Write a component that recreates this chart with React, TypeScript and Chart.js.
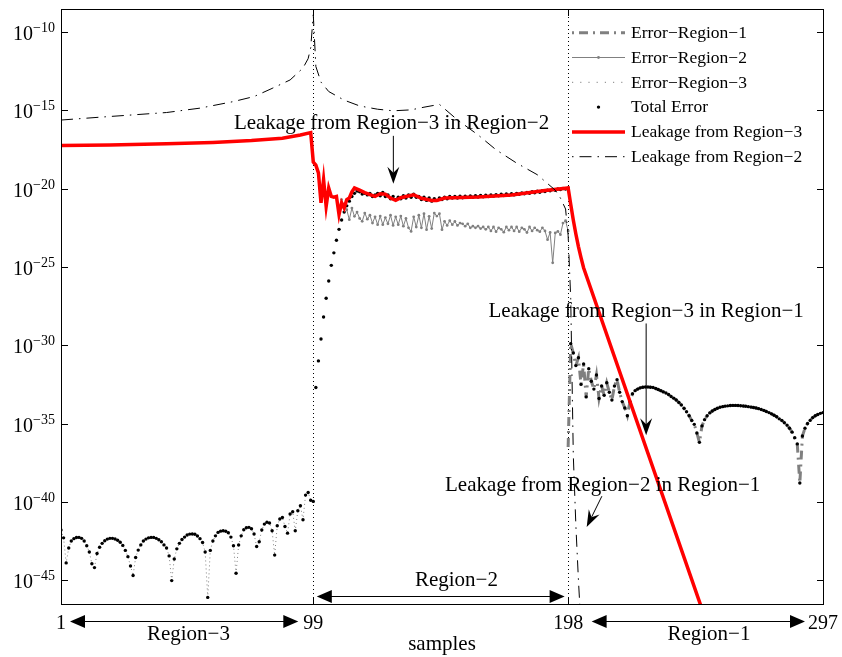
import { useEffect, useRef } from "react";
import { Chart, registerables } from "chart.js";

Chart.register(...registerables);

const SERIF = '"Liberation Serif", "Times New Roman", Times, serif';
const MINUS = "\u2212";

// ---- axes -------------------------------------------------------------
const sampleRange = [1, 297];
const xTickValues = [1, 99, 198, 297];
const yTickExponents = [-10, -15, -20, -25, -30, -35, -40, -45];
const yExponentRange = [-46.47, -8.53];
const regionBoundaries = [99, 198];

// ---- data (log10 of the error) ---------------------------------------
// Total error, one value per sample: samples 1..99
const totalErrorRegion3: number[] = [
  -41.8, -42.3, -43.9, -42.95, -42.5, -42.35, -42.28, -42.27, -42.33, -42.5,
  -42.8, -43.2, -43.95, -44.2, -43.3, -42.9, -42.65, -42.48, -42.38, -42.33,
  -42.33, -42.37, -42.45, -42.58, -42.78, -43.1, -43.5, -44.1, -44.7, -43.55,
  -43.08, -42.75, -42.5, -42.38, -42.3, -42.27, -42.27, -42.33, -42.42, -42.55,
  -42.75, -42.95, -43.45, -45.03, -43.65, -43.0, -42.65, -42.4, -42.25, -42.12,
  -42.06, -42.05, -42.07, -42.18, -42.35, -42.6, -43.2, -46.1, -43.1, -42.5,
  -42.17, -41.95, -41.87, -41.85, -41.88, -41.97, -42.25, -42.8, -44.56, -42.76,
  -42.17, -41.78, -41.65, -41.63, -41.72, -42.05, -42.85, -42.55, -41.8, -41.42,
  -41.3, -41.35, -41.85, -43.4, -41.53, -41.1, -41.0, -41.57, -42.0, -40.78,
  -40.63, -41.85, -40.57, -40.25, -41.14, -39.57, -39.4, -39.9, -39.97,
];

// samples 100..198
const totalErrorRegion2: number[] = [
  -32.7, -31.0, -29.6, -28.2, -27.0, -25.9, -24.9, -24.1, -23.3, -22.6,
  -22.0, -21.5, -21.1, -20.8, -20.5, -20.3, -20.15, -20.2, -20.35, -20.3,
  -20.4, -20.3, -20.5, -20.4, -20.3, -20.45, -20.25, -20.5, -20.4, -20.65,
  -20.5, -20.7, -20.55, -20.65, -20.45, -20.6, -20.4, -20.55, -20.35, -20.55,
  -20.5, -20.7, -20.55, -20.75, -20.6, -20.8, -20.65, -20.75, -20.6, -20.7,
  -20.55, -20.65, -20.5, -20.6, -20.5, -20.6, -20.48, -20.58, -20.48, -20.56,
  -20.46, -20.55, -20.45, -20.53, -20.43, -20.52, -20.42, -20.5, -20.4, -20.48,
  -20.38, -20.46, -20.36, -20.44, -20.34, -20.42, -20.32, -20.4, -20.3, -20.36,
  -20.27, -20.33, -20.24, -20.3, -20.2, -20.27, -20.17, -20.23, -20.13, -20.18,
  -20.1, -20.14, -20.06, -20.1, -20.02, -20.06, -19.99, -20.02, -19.97,
];

// samples 199..297
const totalErrorRegion1: number[] = [
  -29.9, -30.5, -31.3, -30.8, -32.5, -31.2, -33.3, -31.5, -32.3, -32.8,
  -31.9, -33.4, -32.6, -33.2, -32.4, -33.0, -33.5, -32.6, -32.2, -33.0,
  -33.6, -34.0, -34.5, -33.6, -33.1, -32.9, -32.8, -32.72, -32.68, -32.67,
  -32.67, -32.68, -32.7, -32.76, -32.83, -32.9, -32.98, -33.05, -33.15, -33.27,
  -33.38, -33.5, -33.65, -33.82, -34.02, -34.25, -34.5, -34.8, -35.05, -35.6,
  -36.2, -35.15, -34.75, -34.5, -34.32, -34.2, -34.1, -34.02, -33.96, -33.92,
  -33.89, -33.87, -33.85, -33.84, -33.84, -33.85, -33.86, -33.88, -33.9, -33.92,
  -33.95, -33.98, -34.01, -34.05, -34.1, -34.16, -34.23, -34.3, -34.38, -34.47,
  -34.57, -34.7, -34.8, -34.95, -35.1, -35.3, -35.55, -35.9, -36.3, -38.8,
  -35.8, -35.3, -35.0, -34.8, -34.62, -34.5, -34.42, -34.35, -34.3,
];

// Error of region 1 at the boundary sample 198 (the rest follows the total error)
const errorRegion1AtBoundary = -36.5;

// Error of region 2, samples 110..198
const errorRegion2: number[] = [
  -20.7, -21.1, -21.35, -21.98, -21.24, -21.77, -21.5, -21.9, -22.09, -21.56,
  -21.95, -21.7, -22.2, -21.8, -22.3, -21.75, -22.3, -21.85, -22.25, -21.7,
  -22.35, -21.8, -22.3, -21.75, -22.4, -21.9, -22.5, -22.73, -21.8, -22.45,
  -21.7, -22.5, -21.6, -22.62, -21.77, -22.55, -21.56, -21.75, -21.6, -22.62,
  -22.09, -22.35, -22.05, -22.3, -22.1, -22.35, -22.2, -22.25, -22.4, -22.25,
  -22.5, -22.4, -22.5, -22.4, -22.55, -22.45, -22.6, -22.45, -22.7, -22.45,
  -22.75, -22.5, -22.6, -22.78, -22.45, -22.65, -22.45, -22.7, -22.45, -22.75,
  -22.5, -22.6, -22.8, -22.45, -22.7, -22.5, -22.65, -22.75, -22.5, -22.7,
  -23.26, -22.8, -24.74, -22.83, -22.73, -22.94, -22.2, -22.05, -22.7,
];

// Leakage from region 3
const leak3Samples: number[] = [
  1, 20, 42, 60, 75, 87, 94, 98,
  99, 100, 101, 102, 103, 104, 105, 106, 107, 108, 109, 110, 111, 112, 113, 114, 115,
  117, 119, 121, 123, 125, 127, 129, 131, 133, 135,
  138, 141, 145, 147, 150, 163, 176, 189, 198,
  199, 200, 201, 202, 203, 204, 250, 254,
];
const leak3Exps: number[] = [
  -17.25, -17.22, -17.14, -17.05, -16.93, -16.78, -16.58, -16.42,
  -18.3, -18.5, -19.0, -20.9, -19.43, -21.13, -19.96, -20.5, -20.55, -20.5, -21.66, -20.9, -21.24, -20.7, -20.6, -20.2, -19.96,
  -20.1, -20.25, -20.38, -20.5, -20.33, -20.35, -20.6, -20.75, -20.58, -20.5,
  -20.39, -20.62, -20.75, -20.75, -20.6, -20.53, -20.4, -20.12, -19.96,
  -21.0, -22.0, -22.9, -23.7, -24.4, -25.05, -46.85, -48.75,
];

// Leakage from region 2
const leak2Samples: number[] = [
  1, 16, 29, 42, 55, 68, 76, 83, 90, 95,
  97, 98, 99, 100, 102, 105, 111, 117, 124, 130,
  137, 142, 148, 155, 163, 170, 178, 186, 193, 195,
  197, 198, 199, 200, 201, 202, 203,
];
const leak2Exps: number[] = [
  -15.62, -15.44, -15.29, -15.14, -14.86, -14.44, -14.12, -13.6, -13.06, -12.3,
  -11.7, -11.0, -8.9, -12.2, -13.2, -13.8, -14.35, -14.72, -14.93, -15.03,
  -14.97, -14.8, -14.62, -15.61, -16.57, -17.52, -18.37, -19.11, -20.1, -20.6,
  -21.3, -23.0, -27.0, -37.0, -41.5, -45.0, -48.0,
];

const seriesLabels = [
  "Error" + MINUS + "Region" + MINUS + "1",
  "Error" + MINUS + "Region" + MINUS + "2",
  "Error" + MINUS + "Region" + MINUS + "3",
  "Total Error",
  "Leakage from Region" + MINUS + "3",
  "Leakage from Region" + MINUS + "2",
];

// ---- helpers ------------------------------------------------------------
type Pt = { x: number; y: number };
const run = (start: number, exps: number[]): Pt[] =>
  exps.map((e, i) => ({ x: start + i, y: Math.pow(10, e) }));
const pairs = (samples: number[], exps: number[]): Pt[] =>
  samples.map((s, i) => ({ x: s, y: Math.pow(10, exps[i]) }));

// Annotation text and arrow anchors, in (sample, log10 value)
const annotations = [
  { text: "Leakage from Region" + MINUS + "3 in Region" + MINUS + "2", at: [129.4, -16.18], from: [130.1, -16.63], to: [130.1, -19.69] },
  { text: "Leakage from Region" + MINUS + "3 in Region" + MINUS + "1", at: [228.3, -28.2], from: [228.3, -28.61], to: [228.3, -35.75] },
  { text: "Leakage from Region" + MINUS + "2 in Region" + MINUS + "1", at: [211.4, -39.32], from: [211.1, -39.64], to: [205.2, -41.61] },
];

function arrowHead(ctx: CanvasRenderingContext2D, fx: number, fy: number, tx: number, ty: number, len: number, half: number, indent: number) {
  const a = Math.atan2(ty - fy, tx - fx);
  const c = Math.cos(a);
  const s = Math.sin(a);
  const p = (u: number, v: number): [number, number] => [tx + u * c - v * s, ty + u * s + v * c];
  ctx.beginPath();
  ctx.moveTo(...p(0, 0));
  ctx.lineTo(...p(-len, -half));
  ctx.lineTo(...p(-len + indent, 0));
  ctx.lineTo(...p(-len, half));
  ctx.closePath();
  ctx.fill();
}

function singleArrow(ctx: CanvasRenderingContext2D, fx: number, fy: number, tx: number, ty: number) {
  const len = 17, half = 6, indent = 6;
  const a = Math.atan2(ty - fy, tx - fx);
  ctx.beginPath();
  ctx.moveTo(fx, fy);
  ctx.lineTo(tx - Math.cos(a) * (len - indent), ty - Math.sin(a) * (len - indent));
  ctx.stroke();
  arrowHead(ctx, fx, fy, tx, ty, len, half, indent);
}

function spanArrow(ctx: CanvasRenderingContext2D, x1: number, x2: number, y: number) {
  const len = 15, half = 6.5;
  ctx.beginPath();
  ctx.moveTo(x1 + len - 1, y);
  ctx.lineTo(x2 - len + 1, y);
  ctx.stroke();
  arrowHead(ctx, x2, y, x1, y, len, half, 0);
  arrowHead(ctx, x1, y, x2, y, len, half, 0);
}

const legendDash: Record<number, number[]> = { 2: [1.2, 7] };

const decorations = {
  id: "decorations",
  beforeDatasetsDraw(chart: any) {
    const { ctx, chartArea: a, scales } = chart;
    ctx.save();
    ctx.strokeStyle = "#000";
    ctx.lineWidth = 1;
    ctx.setLineDash([1, 3]);
    regionBoundaries.forEach((b) => {
      const px = Math.round(scales.x.getPixelForValue(b)) + 0.5;
      ctx.beginPath();
      ctx.moveTo(px, a.top);
      ctx.lineTo(px, a.bottom);
      ctx.stroke();
    });
    ctx.restore();
  },
  afterDraw(chart: any) {
    const { ctx, chartArea: a, scales } = chart;
    const xp = (v: number) => scales.x.getPixelForValue(v);
    const yp = (e: number) => scales.y.getPixelForValue(Math.pow(10, e));
    ctx.save();
    ctx.strokeStyle = "#000";
    ctx.fillStyle = "#000";
    ctx.lineWidth = 1;
    ctx.setLineDash([]);

    // frame
    ctx.strokeRect(a.left + 0.5, a.top + 0.5, a.right - a.left, a.bottom - a.top);

    // ticks
    const tl = 7;
    yTickExponents.forEach((e) => {
      const py = Math.round(yp(e)) + 0.5;
      ctx.beginPath();
      ctx.moveTo(a.left, py);
      ctx.lineTo(a.left + tl, py);
      ctx.moveTo(a.right + 1, py);
      ctx.lineTo(a.right + 1 - tl, py);
      ctx.stroke();
    });
    xTickValues.forEach((v) => {
      const px = Math.round(xp(v)) + 0.5;
      ctx.beginPath();
      ctx.moveTo(px, a.bottom + 1);
      ctx.lineTo(px, a.bottom + 1 - tl);
      ctx.moveTo(px, a.top);
      ctx.lineTo(px, a.top + tl);
      ctx.stroke();
    });

    // y tick labels: 10 with a raised exponent
    ctx.textAlign = "right";
    ctx.textBaseline = "alphabetic";
    yTickExponents.forEach((e) => {
      const py = yp(e);
      const expText = MINUS + String(-e);
      ctx.font = `14px ${SERIF}`;
      const w = ctx.measureText(expText).width;
      const right = a.left - 6;
      ctx.fillText(expText, right, py);
      ctx.font = `20px ${SERIF}`;
      ctx.fillText("10", right - w, py + 8);
    });

    // x tick labels
    ctx.textAlign = "center";
    ctx.font = `20px ${SERIF}`;
    xTickValues.forEach((v) => ctx.fillText(String(v), xp(v), a.bottom + 24.5));

    // axis title
    ctx.font = `21px ${SERIF}`;
    ctx.fillText("samples", xp(149), a.bottom + 46);

    // region spans
    spanArrow(ctx, xp(1) + 9, xp(99) - 15, 621.5);
    spanArrow(ctx, xp(198) + 23.5, xp(297) - 18, 621.5);
    spanArrow(ctx, xp(99) + 3.5, xp(198) - 3.5, 596.5);
    ctx.fillText("Region" + MINUS + "3", xp(50.5), 640);
    ctx.fillText("Region" + MINUS + "1", xp(252.7), 640);
    ctx.fillText("Region" + MINUS + "2", xp(154.6), 585.5);

    // annotations
    ctx.font = `21px ${SERIF}`;
    annotations.forEach((an) => {
      ctx.fillText(an.text, xp(an.at[0]), yp(an.at[1]));
      singleArrow(ctx, xp(an.from[0]), yp(an.from[1]), xp(an.to[0]), yp(an.to[1]));
    });

    // legend
    const lx0 = 572, lx1 = 625, ltx = 631, ly0 = 32.7, lstep = 24.8;
    chart.data.datasets.forEach((ds: any, i: number) => {
      const ry = ly0 + i * lstep;
      ctx.save();
      if (ds.showLine !== false) {
        const dash: number[] = legendDash[i] ?? ds.borderDash ?? [];
        ctx.strokeStyle = ds.borderColor;
        ctx.lineWidth = ds.borderWidth;
        ctx.setLineDash(dash);
        ctx.lineDashOffset = dash.length ? dash[0] + dash[1] : 0;
        ctx.beginPath();
        ctx.moveTo(lx0, ry);
        ctx.lineTo(lx1, ry);
        ctx.stroke();
      }
      if (ds.pointRadius > 0) {
        ctx.fillStyle = ds.pointBackgroundColor;
        ctx.beginPath();
        ctx.arc((lx0 + lx1) / 2, ry, ds.pointRadius, 0, Math.PI * 2);
        ctx.fill();
      }
      ctx.restore();
      ctx.textAlign = "left";
      ctx.font = `17.5px ${SERIF}`;
      ctx.fillText(ds.label, ltx, ry + 5.3);
    });

    ctx.restore();
  },
};

export default function App() {
  const ref = useRef<HTMLCanvasElement>(null);

  useEffect(() => {
    const canvas = ref.current;
    if (!canvas) return;

    const datasets = [
      {
        label: seriesLabels[0],
        data: run(198, [errorRegion1AtBoundary, ...totalErrorRegion1]),
        borderColor: "#808080",
        borderWidth: 3,
        borderDash: [9, 5, 2, 5],
        pointRadius: 0,
        order: 6,
      },
      {
        label: seriesLabels[1],
        data: run(110, errorRegion2),
        borderColor: "#808080",
        borderWidth: 1,
        pointRadius: 1.4,
        pointBorderWidth: 0,
        pointBackgroundColor: "#808080",
        order: 5,
      },
      {
        label: seriesLabels[2],
        data: run(1, totalErrorRegion3),
        borderColor: "#808080",
        borderWidth: 1,
        borderDash: [1, 3],
        pointRadius: 0,
        order: 4,
      },
      {
        label: seriesLabels[3],
        data: [...run(1, totalErrorRegion3), ...run(100, totalErrorRegion2), ...run(199, totalErrorRegion1)],
        showLine: false,
        pointRadius: 1.7,
        pointBorderWidth: 0,
        pointBackgroundColor: "#000000",
        borderColor: "#000000",
        order: 3,
      },
      {
        label: seriesLabels[4],
        data: pairs(leak3Samples, leak3Exps),
        borderColor: "#ff0000",
        borderWidth: 3.5,
        pointRadius: 0,
        order: 2,
      },
      {
        label: seriesLabels[5],
        data: pairs(leak2Samples, leak2Exps),
        borderColor: "#000000",
        borderWidth: 1,
        borderDash: [12, 6, 1.5, 6],
        pointRadius: 0,
        order: 1,
      },
    ];

    const chart = new Chart(canvas, {
      type: "line",
      data: { datasets } as any,
      options: {
        animation: false,
        responsive: false,
        devicePixelRatio: 1,
        events: [],
        layout: { padding: { left: 61, top: 9, right: 19, bottom: 53 } },
        elements: { line: { tension: 0, fill: false } },
        plugins: { legend: { display: false }, tooltip: { enabled: false } },
        scales: {
          x: { type: "linear", min: sampleRange[0], max: sampleRange[1], display: false },
          y: {
            type: "logarithmic",
            min: Math.pow(10, yExponentRange[0]),
            max: Math.pow(10, yExponentRange[1]),
            display: false,
          },
        },
      } as any,
      plugins: [decorations],
    });

    return () => chart.destroy();
  }, []);

  return (
    <div style={{ position: "fixed", left: 0, top: 0, width: 842, height: 657, background: "#fff" }}>
      <canvas ref={ref} width={842} height={657} style={{ display: "block", width: 842, height: 657 }} />
    </div>
  );
}
